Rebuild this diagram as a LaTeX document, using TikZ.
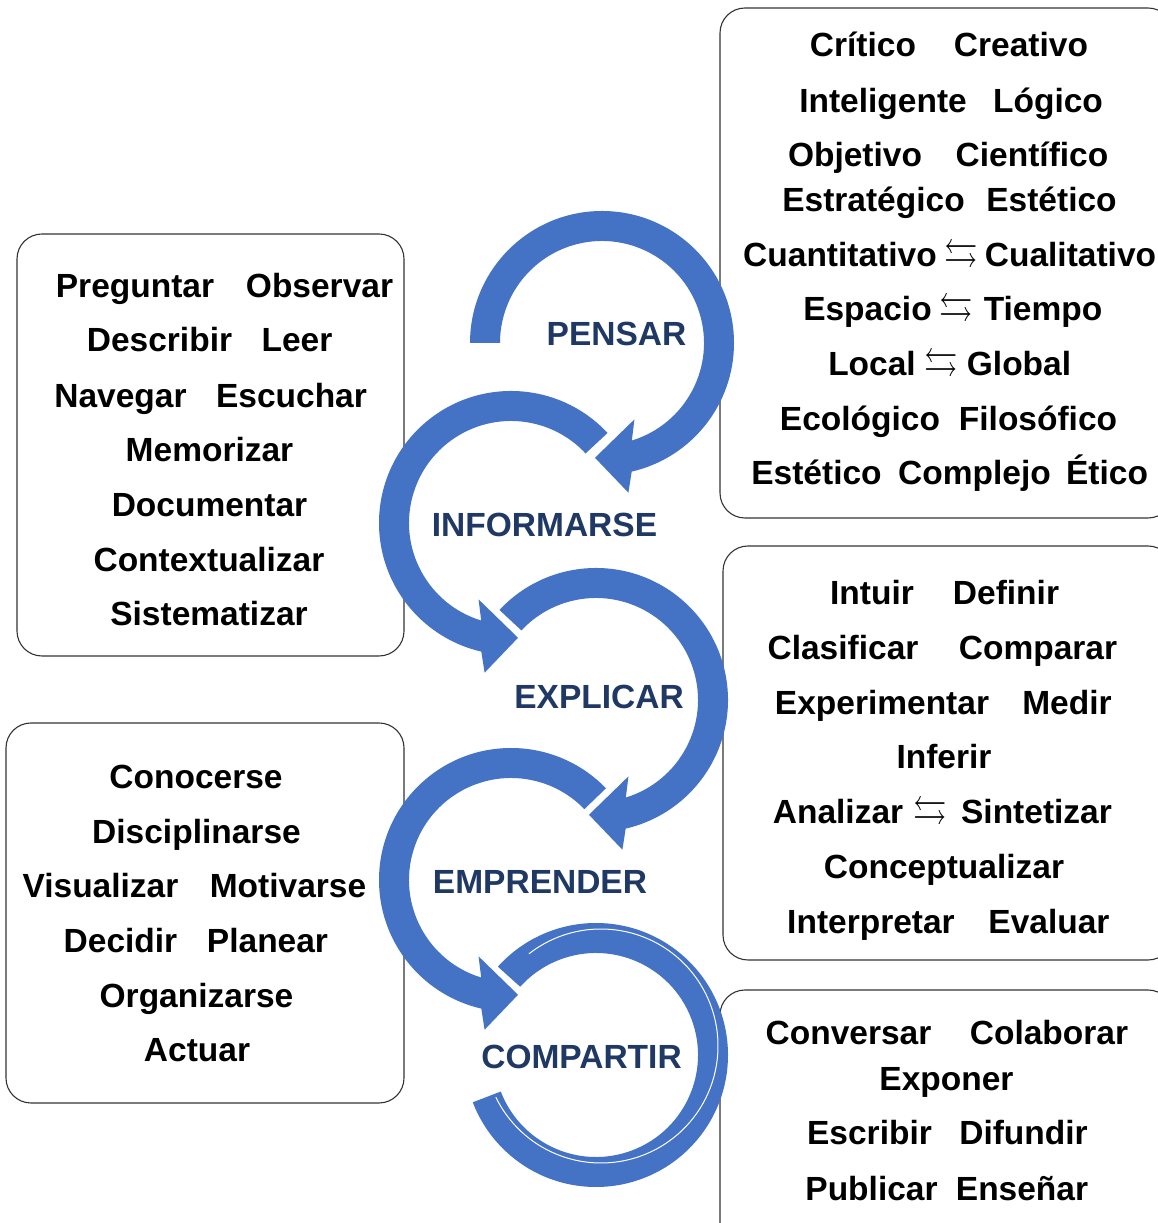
\documentclass[tikz,border=0pt]{standalone}
\usepackage{amssymb}
\usepackage{fontspec}
\setmainfont{Liberation Sans}
\definecolor{ringblue}{HTML}{4472C4}
\definecolor{navy}{HTML}{1F3864}
\newcommand\wf{\fontsize{33.5}{40}\selectfont\bfseries}
\newcommand\wrd[4]{\node[word] (#1) at (#2,{1211-#3}) {#4};}
\newcommand\lbl[4]{\node[lab] (#1) at (#2,{1211-#3}) {#4};}
\newcommand\lr{\raisebox{-1pt}{\scalebox{1}[1.25]{$\leftrightarrows$}}}
\tikzset{
  box/.style={draw=black!80, line width=1.1pt, rounded corners=25pt},
  word/.style={font=\wf, text=black, anchor=base, inner sep=0pt},
  lab/.style={font=\wf, text=navy, anchor=base, inner sep=0pt},
  ring/.style={fill=ringblue, draw=none},
}
\begin{document}
\begin{tikzpicture}[x=1pt,y=1pt]
\useasboundingbox (0,0) rectangle (1158,1223);
\clip (0,0) rectangle (1158,1223);
\fill[white] (0,0) rectangle (1158,1223);
% boxes
\draw[box] (720,705) rectangle (1173,1215);
\draw[box] (17,567) rectangle (404,989);
\draw[box] (723,263) rectangle (1173,677);
\draw[box] (6,120) rectangle (404,500);
\draw[box] (720,-25) rectangle (1173,233);
% PENSAR ring (clockwise)
\begin{scope}[shift={(602,880)}]
\fill[ring] (180:132) arc[start angle=180, end angle=-77, radius=132] -- (-80:152) -- (-93.5:115) -- (-67:83) -- (-73:102) arc[start angle=-73, end angle=180, radius=102] -- cycle;
\end{scope}
% INFORMARSE ring (counter-clockwise)
\begin{scope}[shift={(511,700)}]
\fill[ring] (43:132) arc[start angle=43, end angle=257, radius=132] -- (260:152) -- (273.5:115) -- (247:83) -- (253:102) arc[start angle=253, end angle=43, radius=102] -- cycle;
\end{scope}
% EXPLICAR ring
\begin{scope}[shift={(596,523)}]
\fill[ring] (137:132) arc[start angle=137, end angle=-77, radius=132] -- (-80:152) -- (-93.5:115) -- (-67:83) -- (-73:102) arc[start angle=-73, end angle=137, radius=102] -- cycle;
\end{scope}
% EMPRENDER ring
\begin{scope}[shift={(511,343)}]
\fill[ring] (44:132) arc[start angle=44, end angle=257, radius=132] -- (260:152) -- (273.5:115) -- (247:83) -- (253:102) arc[start angle=253, end angle=44, radius=102] -- cycle;
\end{scope}
% COMPARTIR ring
\begin{scope}[shift={(596,168)}]
\fill[ring] (138:132) arc[start angle=138, end angle=-159, radius=132] -- (-159:102) arc[start angle=-159, end angle=138, radius=102] -- cycle;
\end{scope}
\begin{scope}[shift={(601,177)}]
\draw[white, line width=1pt] (128:117) arc[start angle=128, end angle=-154, radius=117];
\end{scope}
% labels
\lbl{pensar}{616.5}{334}{PENSAR}
\lbl{informarse}{544.5}{525}{INFORMARSE}
\lbl{explicar}{599}{697}{EXPLICAR}
\lbl{emprender}{540}{882}{EMPRENDER}
\lbl{compartir}{581.5}{1057}{COMPARTIR}
% top-right box
\wrd{a1}{863}{45}{Crítico}
\wrd{a2}{1021}{45}{Creativo}
\wrd{a3}{883}{101}{Inteligente}
\wrd{a4}{1048}{101}{Lógico}
\wrd{a5}{855}{155}{Objetivo}
\wrd{a6}{1032}{155}{Científico}
\wrd{a7}{873.5}{200}{Estratégico}
\wrd{a8}{1051.5}{200}{Estético}
\wrd{a9}{840}{255}{Cuantitativo}
\wrd{a10}{961.5}{255}{\lr}
\wrd{a11}{1070.5}{255}{Cualitativo}
\wrd{a12}{867.5}{309}{Espacio}
\wrd{a13}{956}{309}{\lr}
\wrd{a14}{1043}{309}{Tiempo}
\wrd{a15}{872}{364}{Local}
\wrd{a16}{941.5}{364}{\lr}
\wrd{a17}{1019}{364}{Global}
\wrd{a18}{860}{419}{Ecológico}
\wrd{a19}{1038}{419}{Filosófico}
\wrd{a20}{816.5}{473}{Estético}
\wrd{a21}{974.5}{473}{Complejo}
\wrd{a22}{1107}{473}{Ético}
% left box 1
\wrd{b1}{135}{286}{Preguntar}
\wrd{b2}{319.5}{286}{Observar}
\wrd{b3}{159.5}{340}{Describir}
\wrd{b4}{297}{340}{Leer}
\wrd{b5}{120.5}{396}{Navegar}
\wrd{b6}{291.5}{396}{Escuchar}
\wrd{b7}{209.5}{450}{Memorizar}
\wrd{b8}{209.5}{505}{Documentar}
\wrd{b9}{209}{560}{Contextualizar}
\wrd{b10}{209}{614}{Sistematizar}
% right box 2
\wrd{c1}{872}{593}{Intuir}
\wrd{c2}{1006}{593}{Definir}
\wrd{c3}{843}{648}{Clasificar}
\wrd{c4}{1038}{648}{Comparar}
\wrd{c5}{882}{703}{Experimentar}
\wrd{c6}{1067}{703}{Medir}
\wrd{c7}{944}{757}{Inferir}
\wrd{c8}{838}{812}{Analizar}
\wrd{c9}{930}{812}{\lr}
\wrd{c10}{1036.5}{812}{Sintetizar}
\wrd{c11}{944}{867}{Conceptualizar}
\wrd{c12}{871}{922}{Interpretar}
\wrd{c13}{1049}{922}{Evaluar}
% left box 2
\wrd{d1}{196}{777}{Conocerse}
\wrd{d2}{196.5}{832}{Disciplinarse}
\wrd{d3}{100.5}{886}{Visualizar}
\wrd{d4}{288}{886}{Motivarse}
\wrd{d5}{120.5}{941}{Decidir}
\wrd{d6}{267.5}{941}{Planear}
\wrd{d7}{196.5}{996}{Organizarse}
\wrd{d8}{197}{1050}{Actuar}
% right box 3
\wrd{e1}{848.5}{1033}{Conversar}
\wrd{e2}{1049}{1033}{Colaborar}
\wrd{e3}{946.5}{1079}{Exponer}
\wrd{e4}{869.5}{1133}{Escribir}
\wrd{e5}{1023.5}{1133}{Difundir}
\wrd{e6}{871.5}{1188}{Publicar}
\wrd{e7}{1022}{1188}{Enseñar}
\end{tikzpicture}
\end{document}
